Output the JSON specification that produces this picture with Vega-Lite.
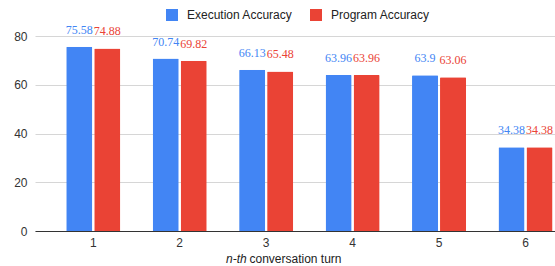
{
  "$schema": "https://vega.github.io/schema/vega-lite/v6.json",
  "width": 520,
  "height": 195,
  "autosize": {"type": "none"},
  "padding": {"left": 35, "top": 36, "right": 0, "bottom": 35},
  "background": "white",
  "config": {
    "view": {"stroke": null},
    "font": "Liberation Sans"
  },
  "title": {
    "text": "n-th",
    "orient": "bottom",
    "frame": "group",
    "anchor": "start",
    "dx": 191,
    "offset": -10,
    "font": "Liberation Sans",
    "fontSize": 12,
    "fontStyle": "italic",
    "fontWeight": "normal",
    "color": "#222222"
  },
  "data": {
    "values": [
      {"turn": "1", "metric": "Execution Accuracy", "value": 75.58},
      {"turn": "1", "metric": "Program Accuracy", "value": 74.88},
      {"turn": "2", "metric": "Execution Accuracy", "value": 70.74},
      {"turn": "2", "metric": "Program Accuracy", "value": 69.82},
      {"turn": "3", "metric": "Execution Accuracy", "value": 66.13},
      {"turn": "3", "metric": "Program Accuracy", "value": 65.48},
      {"turn": "4", "metric": "Execution Accuracy", "value": 63.96},
      {"turn": "4", "metric": "Program Accuracy", "value": 63.96},
      {"turn": "5", "metric": "Execution Accuracy", "value": 63.9},
      {"turn": "5", "metric": "Program Accuracy", "value": 63.06},
      {"turn": "6", "metric": "Execution Accuracy", "value": 34.38},
      {"turn": "6", "metric": "Program Accuracy", "value": 34.38}
    ]
  },
  "encoding": {
    "x": {
      "field": "turn",
      "type": "nominal",
      "scale": {"paddingInner": 0.375, "paddingOuter": 0.195, "align": 0.926},
      "axis": {
        "title": "conversation turn",
        "titleFont": "Liberation Sans",
        "titleFontSize": 12,
        "titleFontWeight": "normal",
        "titleColor": "#222222",
        "titlePadding": 5,
        "labelAngle": 0,
        "labelFontSize": 12,
        "labelColor": "#333333",
        "labelPadding": 6,
        "ticks": false,
        "domainColor": "#333333",
        "domainWidth": 1
      }
    },
    "xOffset": {"field": "metric", "type": "nominal", "scale": {"paddingInner": 0.07}},
    "y": {
      "field": "value",
      "type": "quantitative",
      "scale": {"domain": [0, 80]},
      "axis": {
        "title": null,
        "values": [0, 20, 40, 60, 80],
        "labelFontSize": 12,
        "labelColor": "#333333",
        "labelPadding": 8,
        "ticks": false,
        "domain": false,
        "gridColor": "#d6d6d6",
        "gridWidth": 1
      }
    },
    "color": {
      "field": "metric",
      "type": "nominal",
      "scale": {"domain": ["Execution Accuracy", "Program Accuracy"], "range": ["#4285F4", "#EA4335"]},
      "legend": {
        "title": null,
        "orient": "none",
        "direction": "horizontal",
        "legendX": 131,
        "legendY": -27,
        "symbolType": "square",
        "symbolSize": 144,
        "symbolStrokeWidth": 0,
        "symbolOpacity": 1,
        "labelFontSize": 12,
        "labelColor": "#222222",
        "labelOffset": 9,
        "columnPadding": 17
      }
    }
  },
  "layer": [
    {"mark": {"type": "bar", "cornerRadiusTopLeft": 1, "cornerRadiusTopRight": 1}},
    {
      "mark": {"type": "text", "font": "Liberation Serif", "fontSize": 12, "baseline": "alphabetic", "dy": -13, "align": "center"},
      "encoding": {"text": {"field": "value", "type": "quantitative"}}
    }
  ]
}
